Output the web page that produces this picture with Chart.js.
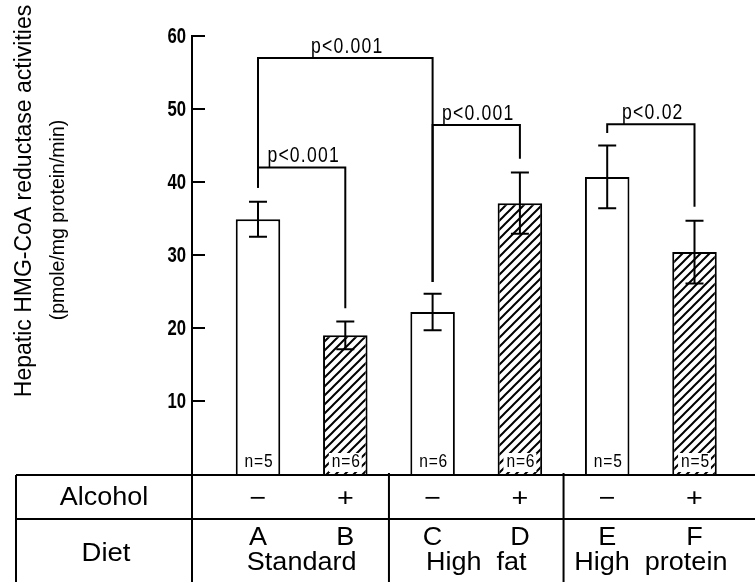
<!DOCTYPE html>
<html>
<head>
<meta charset="utf-8">
<script src="https://cdn.jsdelivr.net/npm/chart.js@4"></script>
<style>
  body { margin: 0; background: #fff; }
  #wrap { width: 755px; height: 582px; position: relative; }
</style>
</head>
<body>
<div id="wrap"><canvas id="chart"></canvas></div>
<script>
// Data
const groups = ["A", "B", "C", "D", "E", "F"];
const xPos = [1, 2, 3, 4, 5, 6];
const means = [34.9, 19.0, 22.2, 37.1, 40.7, 30.4];
const errors = [2.4, 1.9, 2.5, 4.2, 4.3, 4.3];
const sampleSizes = [5, 6, 6, 6, 5, 5];
const alcohol = ["\u2212", "+", "\u2212", "+", "\u2212", "+"];
const hatched = [false, true, false, true, false, true];
const dietNames = ["Standard", "High  fat", "High  protein"];
const yTicks = [10, 20, 30, 40, 50, 60];

// significance brackets: bar indexes, top of bracket, where each leg stops
const bracketFrom = [0, 0, 2, 4];
const bracketTo = [2, 1, 3, 5];
const bracketTop = [57.0, 42.0, 47.8, 47.9];
const bracketLeftEnd = [39.2, 39.2, 26.3, 46.7];
const bracketRightEnd = [26.3, 22.7, 43.2, 36.6];
const bracketLabels = ["p<0.001", "p<0.001", "p<0.001", "p<0.02"];

const yTitle = "Hepatic HMG-CoA reductase activities";
const yUnits = "(pmole/mg protein/min)";

// Diagonal hatch pattern
function makeHatch() {
  const c = document.createElement("canvas");
  c.width = 9;
  c.height = 9;
  const g = c.getContext("2d");
  g.fillStyle = "#fff";
  g.fillRect(0, 0, 9, 9);
  g.strokeStyle = "#000";
  g.lineWidth = 2;
  g.beginPath();
  g.moveTo(-1, 10);
  g.lineTo(10, -1);
  g.moveTo(-2, 2);
  g.lineTo(2, -2);
  g.moveTo(7, 11);
  g.lineTo(11, 7);
  g.stroke();
  return g.createPattern(c, "repeat");
}
const hatch = makeHatch();

function stretchedText(ctx, text, x, y, sx) {
  ctx.save();
  ctx.translate(x, y);
  ctx.scale(sx, 1);
  ctx.fillText(text, 0, 0);
  ctx.restore();
}

const overlay = {
  id: "overlay",
  afterDatasetsDraw(chart) {
    const ctx = chart.ctx;
    const xs = chart.scales.x;
    const ys = chart.scales.y;
    const area = chart.chartArea;
    const H = chart.height;
    const W = chart.width;
    ctx.save();
    ctx.strokeStyle = "#000";
    ctx.fillStyle = "#000";
    ctx.lineWidth = 2;
    ctx.lineCap = "butt";

    // axis line + inward ticks + condensed tick labels
    const ax = area.left;
    ctx.beginPath();
    ctx.moveTo(ax, ys.getPixelForValue(60) - 1);
    ctx.lineTo(ax, H);
    yTicks.forEach((v) => {
      const py = ys.getPixelForValue(v);
      ctx.moveTo(ax, py);
      ctx.lineTo(ax + 13, py);
    });
    ctx.stroke();
    ctx.font = "bold 22px 'Liberation Sans', Arial, sans-serif";
    ctx.textAlign = "right";
    ctx.textBaseline = "middle";
    yTicks.forEach((v) => {
      stretchedText(ctx, String(v), ax - 6, ys.getPixelForValue(v) + 1, 0.76);
    });

    // error bars
    means.forEach((m, i) => {
      const px = xs.getPixelForValue(xPos[i]);
      const top = ys.getPixelForValue(m + errors[i]);
      const bot = ys.getPixelForValue(m - errors[i]);
      ctx.beginPath();
      ctx.moveTo(px, top);
      ctx.lineTo(px, bot);
      ctx.moveTo(px - 9, top);
      ctx.lineTo(px + 9, top);
      ctx.moveTo(px - 9, bot);
      ctx.lineTo(px + 9, bot);
      ctx.stroke();
    });

    // brackets
    ctx.font = "22px 'Liberation Sans', Arial, sans-serif";
    ctx.letterSpacing = "1.5px";
    ctx.textAlign = "center";
    ctx.textBaseline = "alphabetic";
    bracketFrom.forEach((a, k) => {
      const b = bracketTo[k];
      const x1 = xs.getPixelForValue(xPos[a]);
      const x2 = xs.getPixelForValue(xPos[b]);
      const yt = ys.getPixelForValue(bracketTop[k]);
      ctx.beginPath();
      ctx.moveTo(x1, ys.getPixelForValue(bracketLeftEnd[k]));
      ctx.lineTo(x1, yt);
      ctx.lineTo(x2, yt);
      ctx.lineTo(x2, ys.getPixelForValue(bracketRightEnd[k]));
      ctx.stroke();
      stretchedText(ctx, bracketLabels[k], (x1 + x2) / 2 + 2, yt - 5, 0.8);
    });

    // n= labels inside bars
    ctx.font = "19px 'Liberation Sans', Arial, sans-serif";
    ctx.letterSpacing = "1px";
    ctx.textBaseline = "middle";
    const ny = area.bottom - 12;
    sampleSizes.forEach((n, i) => {
      const px = xs.getPixelForValue(xPos[i]);
      const label = "n=" + n;
      if (hatched[i]) {
        const w = ctx.measureText(label).width * 0.82;
        ctx.fillStyle = "#fff";
        ctx.fillRect(px - w / 2 - 2, ny - 9, w + 4, 19);
        ctx.fillStyle = "#000";
      }
      stretchedText(ctx, label, px + 1, ny, 0.82);
    });
    ctx.letterSpacing = "0px";

    // table
    const t0 = area.bottom + 1;
    const t1 = 519;
    const left = 16;
    ctx.beginPath();
    ctx.moveTo(left, t0);
    ctx.lineTo(W, t0);
    ctx.moveTo(left, t1);
    ctx.lineTo(W, t1);
    ctx.moveTo(left, t0);
    ctx.lineTo(left, H);
    [2.5, 4.5].forEach((v) => {
      const px = xs.getPixelForValue(v);
      ctx.moveTo(px, t0 - 2);
      ctx.lineTo(px, H);
    });
    ctx.stroke();

    ctx.font = "25px 'Liberation Sans', Arial, sans-serif";
    ctx.textAlign = "center";
    ctx.textBaseline = "middle";
    stretchedText(ctx, "Alcohol", (left + ax) / 2, 498, 1.08);
    stretchedText(ctx, "Diet", (left + ax) / 2 + 2, 554, 1.1);
    alcohol.forEach((s, i) => {
      const px = xs.getPixelForValue(xPos[i]);
      stretchedText(ctx, s, px, 499, 1.15);
      stretchedText(ctx, groups[i], px, 538, 1.08);
    });
    dietNames.forEach((name, g) => {
      const px = (xs.getPixelForValue(xPos[2 * g]) + xs.getPixelForValue(xPos[2 * g + 1])) / 2;
      stretchedText(ctx, name, px, 563, 1.08);
    });

    // y titles
    ctx.textAlign = "center";
    ctx.textBaseline = "alphabetic";
    ctx.save();
    ctx.translate(31, 201);
    ctx.rotate(-Math.PI / 2);
    ctx.font = "23px 'Liberation Sans', Arial, sans-serif";
    ctx.fillText(yTitle, 0, 0);
    ctx.restore();
    ctx.save();
    ctx.translate(64, 220);
    ctx.rotate(-Math.PI / 2);
    ctx.font = "19.5px 'Liberation Sans', Arial, sans-serif";
    ctx.fillText(yUnits, 0, 0);
    ctx.restore();

    ctx.restore();
  },
};

new Chart(document.getElementById("chart"), {
  type: "bar",
  data: {
    datasets: [
      {
        data: xPos.map((x, i) => ({ x: x, y: means[i] })),
        backgroundColor: hatched.map((h) => (h ? hatch : "#fff")),
        borderColor: "#000",
        borderWidth: 2,
        borderSkipped: "bottom",
        categoryPercentage: 1,
        barPercentage: 0.51,
      },
    ],
  },
  options: {
    responsive: true,
    maintainAspectRatio: false,
    animation: false,
    devicePixelRatio: 1,
    layout: { padding: { top: 36, bottom: 108, left: 0, right: 0 } },
    plugins: { legend: { display: false }, tooltip: { enabled: false } },
    scales: {
      x: {
        type: "linear",
        min: 0.244,
        max: 6.693,
        offset: false,
        display: false,
        afterBuildTicks(scale) {
          scale.ticks = xPos.map((v) => ({ value: v }));
        },
      },
      y: {
        min: 0,
        max: 60,
        afterFit(scale) {
          scale.width = 192;
        },
        afterBuildTicks(scale) {
          scale.ticks = yTicks.map((v) => ({ value: v }));
        },
        border: { display: false },
        grid: { display: false, drawTicks: false },
        ticks: { display: false },
      },
    },
  },
  plugins: [overlay],
});
</script>
</body>
</html>
